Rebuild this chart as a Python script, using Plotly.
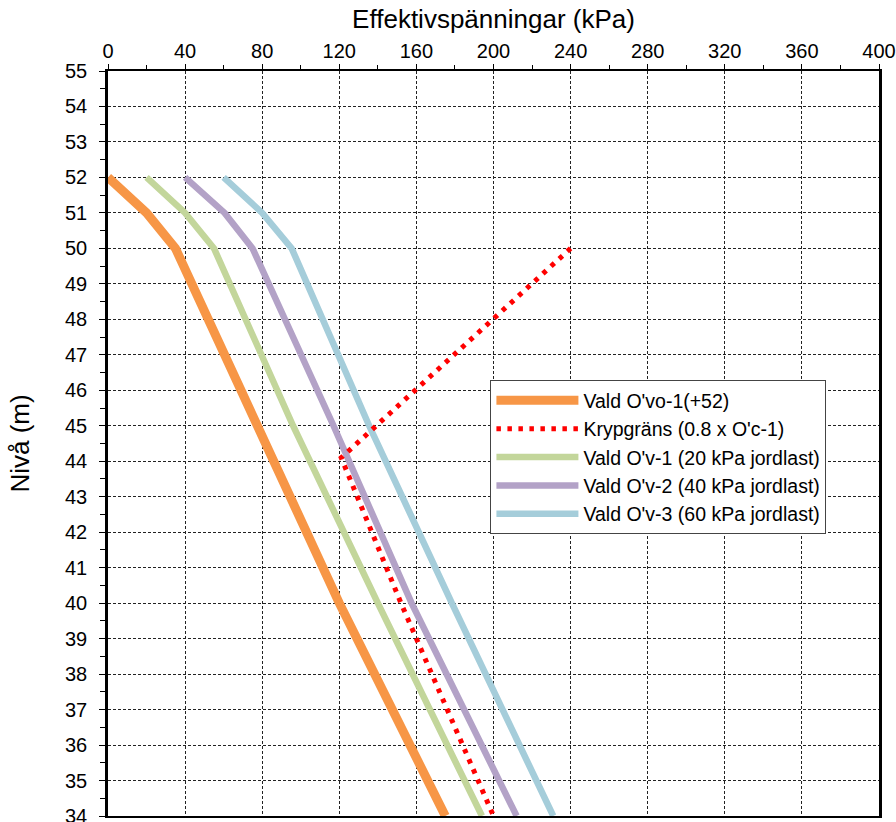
import plotly.graph_objects as go

# Levels (m) and effective stresses (kPa)
lvl_ovo1 = [52, 51, 50, 45, 40, 34]
ovo1 = [0, 20, 35, 77, 120, 175]

lvl_kryp = [50, 44.1, 40, 34]
kryp = [240, 121, 152, 200]

lvl_ov1 = [52, 51, 50, 45, 40, 34]
ov1 = [20, 40, 55, 96, 140, 194]

lvl_ov2 = [52, 51, 50, 45, 40, 34]
ov2 = [40, 60.5, 75, 117, 157.5, 212]

lvl_ov3 = [52, 51, 50, 45, 40, 34]
ov3 = [60, 80, 95.3, 135.5, 178.4, 231]

names = ["Vald O'vo-1(+52)", "Krypgräns (0.8 x O'c-1)",
         "Vald O'v-1 (20 kPa jordlast)", "Vald O'v-2 (40 kPa jordlast)",
         "Vald O'v-3 (60 kPa jordlast)"]

x_ticks = [0, 40, 80, 120, 160, 200, 240, 280, 320, 360, 400]
y_ticks = list(range(34, 56))

fig = go.Figure()
fig.add_trace(go.Scatter(x=ovo1, y=lvl_ovo1, mode="lines", name=names[0], legendrank=1,
                         line=dict(color="#F79646", width=9)))
fig.add_trace(go.Scatter(x=ov1, y=lvl_ov1, mode="lines", name=names[2], legendrank=3,
                         line=dict(color="#C3D69B", width=6.5)))
fig.add_trace(go.Scatter(x=ov2, y=lvl_ov2, mode="lines", name=names[3], legendrank=4,
                         line=dict(color="#B3A2C7", width=6.5)))
fig.add_trace(go.Scatter(x=ov3, y=lvl_ov3, mode="lines", name=names[4], legendrank=5,
                         line=dict(color="#A5CDDA", width=6.5)))
fig.add_trace(go.Scatter(x=kryp, y=lvl_kryp, mode="lines", name=names[1], legendrank=2,
                         line=dict(color="#FF0000", width=5, dash="4.5px,6.5px")))

font_family = "Liberation Sans, Arial, sans-serif"

fig.update_layout(
    width=896, height=822,
    margin=dict(l=108, r=17, t=71, b=6),
    paper_bgcolor="white", plot_bgcolor="white",
    font=dict(family=font_family, color="black", size=20),
    showlegend=True,
    legend=dict(x=0.496, y=0.585, xanchor="left", yanchor="top",
                bgcolor="white", bordercolor="#444", borderwidth=1,
                font=dict(size=19.5, family=font_family), itemwidth=82,
                tracegroupgap=0),
    xaxis=dict(side="top", range=[0, 400], tickvals=x_ticks, automargin=False,
               showline=True, linecolor="black", linewidth=2, mirror=True,
               ticks="outside", ticklen=5, tickwidth=1, tickcolor="black",
               showgrid=True, gridcolor="#222", gridwidth=1, griddash="3px,2px",
               zeroline=False, ticklabelstandoff=-2,
               minor=dict(dtick=20, ticks="outside", ticklen=4, tickcolor="black", showgrid=False),
               title=dict(text="Effektivspänningar (kPa)", font=dict(size=26), standoff=4),
               tickfont=dict(size=20)),
    yaxis=dict(range=[34, 55], tickvals=y_ticks, automargin=False,
               showline=True, linecolor="black", linewidth=2.5, mirror=True,
               ticks="outside", ticklen=6, tickwidth=1, tickcolor="black",
               showgrid=True, gridcolor="#222", gridwidth=1, griddash="3px,2px",
               zeroline=False, ticklabeloverflow="allow",
               minor=dict(dtick=0.5, ticks="outside", ticklen=5, tickcolor="black", showgrid=False),
               title=dict(text="Nivå (m)", font=dict(size=26), standoff=28),
               tickfont=dict(size=20), ticklabelstandoff=8),
)

fig.write_html("out.html")
